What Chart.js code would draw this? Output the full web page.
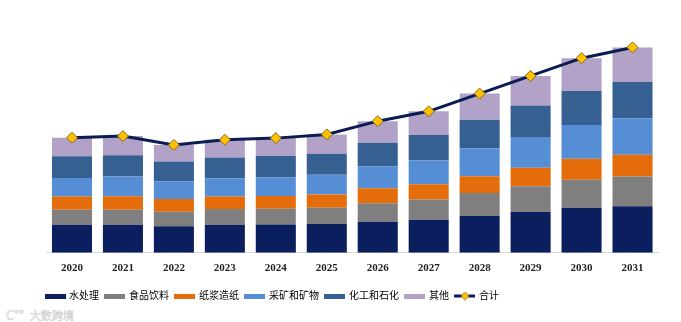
<!DOCTYPE html>
<html>
<head>
<meta charset="utf-8">
<script src="https://cdn.jsdelivr.net/npm/chart.js@4/dist/chart.umd.min.js"></script>
<style>
  html, body { margin: 0; padding: 0; background: #fff; }
  #wrap { position: relative; width: 681px; height: 322px; }
  #mark {
    position: absolute; left: 6px; top: 305px;
    font: 11px 'Noto Sans CJK SC', sans-serif; color: #f6f6f6;
    -webkit-text-stroke: 0.5px #cccccc; white-space: nowrap;
  }
  #mark b { font-weight: normal; font-size: 13px; margin-right: 6px; }
</style>
</head>
<body>
<div id="wrap">
  <canvas id="chart" width="681" height="322"></canvas>
  <div id="mark"><b>C&deg;&deg;</b>大数跨境</div>
</div>
<script>
'use strict';

var years = ['2020', '2021', '2022', '2023', '2024', '2025', '2026', '2027', '2028', '2029', '2030', '2031'];

var water    = [28.0, 28.0, 26.5, 28.0, 28.2, 28.7, 31.0, 33.0, 36.8, 40.7, 45.0, 46.3];
var food     = [15.0, 15.0, 14.5, 15.7, 15.6, 16.3, 18.5, 20.0, 22.9, 25.6, 27.8, 29.7];
var pulp     = [13.0, 13.3, 12.5, 12.3, 12.7, 13.0, 14.8, 15.3, 16.6, 18.4, 21.0, 21.7];
var mining   = [18.5, 19.7, 17.5, 18.3, 18.8, 19.7, 21.7, 23.7, 27.7, 30.6, 33.7, 36.3];
var chemical = [21.8, 21.3, 20.0, 20.7, 21.1, 21.0, 23.7, 25.3, 28.7, 31.4, 33.8, 36.3];
var other    = [18.4, 19.0, 16.5, 17.7, 17.9, 19.3, 21.5, 23.7, 26.0, 29.6, 32.7, 34.4];

var seriesNames = ['水处理', '食品饮料', '纸浆造纸', '采矿和矿物', '化工和石化', '其他'];
var seriesColors = ['#0b1f5e', '#7f7f7f', '#e46c0a', '#558ed5', '#376092', '#b3a2c7'];
var seriesData = [water, food, pulp, mining, chemical, other];

// 合计 = sum of all segments for each year
var totals = years.map(function (_, i) {
    return seriesData.reduce(function (s, arr) { return s + arr[i]; }, 0);
});

var lineColor = '#0b1c52';
var markerFill = '#ffc000';
var markerEdge = '#8a6a1c';

// small legend swatches
function swatch(color) {
    var c = document.createElement('canvas');
    c.width = 21; c.height = 5;
    var g = c.getContext('2d');
    g.fillStyle = color;
    g.fillRect(0, 0, 21, 5);
    return c;
}

function lineSwatch() {
    var c = document.createElement('canvas');
    c.width = 21; c.height = 9;
    var g = c.getContext('2d');
    g.strokeStyle = lineColor;
    g.lineWidth = 3;
    g.beginPath(); g.moveTo(0, 4.5); g.lineTo(21, 4.5); g.stroke();
    g.fillStyle = markerFill;
    g.strokeStyle = markerEdge;
    g.lineWidth = 0.8;
    g.beginPath();
    g.moveTo(10.5, 0.5); g.lineTo(14.5, 4.5); g.lineTo(10.5, 8.5); g.lineTo(6.5, 4.5);
    g.closePath(); g.fill(); g.stroke();
    return c;
}

var datasets = seriesNames.map(function (name, i) {
    return {
        type: 'bar',
        label: name,
        data: seriesData[i],
        backgroundColor: seriesColors[i],
        borderWidth: 0,
        categoryPercentage: 1,
        barPercentage: 0.786,
        order: 1,
        legendIcon: swatch(seriesColors[i])
    };
});

datasets.push({
    type: 'line',
    label: '合计',
    data: totals,
    borderColor: lineColor,
    borderWidth: 3,
    tension: 0,
    pointStyle: 'rectRot',
    pointRadius: 5.5,
    pointHoverRadius: 5.5,
    pointBackgroundColor: markerFill,
    pointBorderColor: markerEdge,
    pointBorderWidth: 1,
    order: 0,
    legendIcon: lineSwatch()
});

new Chart(document.getElementById('chart'), {
    data: { labels: years, datasets: datasets },
    options: {
        responsive: false,
        animation: false,
        maintainAspectRatio: false,
        layout: { padding: { left: 39, right: 23, top: 10, bottom: 11 } },
        plugins: {
            tooltip: { enabled: false },
            legend: {
                position: 'bottom',
                align: 'start',
                labels: {
                    usePointStyle: true,
                    pointStyleWidth: 18,
                    boxHeight: 5,
                    padding: 7,
                    color: '#333',
                    font: { family: "'Liberation Serif', 'Noto Sans CJK SC'", size: 10 },
                    generateLabels: function (chart) {
                        return chart.data.datasets.map(function (ds, i) {
                            return {
                                text: ds.label,
                                pointStyle: ds.legendIcon,
                                fillStyle: ds.backgroundColor,
                                strokeStyle: 'transparent',
                                lineWidth: 0,
                                hidden: false,
                                datasetIndex: i
                            };
                        });
                    }
                }
            }
        },
        scales: {
            x: {
                stacked: true,
                grid: { display: false, drawTicks: false },
                border: { display: true, color: '#d9d9d9', width: 1 },
                ticks: {
                    padding: 9,
                    color: '#222',
                    font: { family: "'Liberation Serif'", size: 11, weight: 'bold' }
                }
            },
            y: {
                stacked: true,
                min: 0,
                max: 242,
                grid: { display: false, drawTicks: false },
                border: { display: false },
                ticks: { display: false },
                // blank strip so the bars start a little right of the legend
                afterFit: function (scale) { scale.width = 7.5; }
            }
        }
    }
});
</script>
</body>
</html>
